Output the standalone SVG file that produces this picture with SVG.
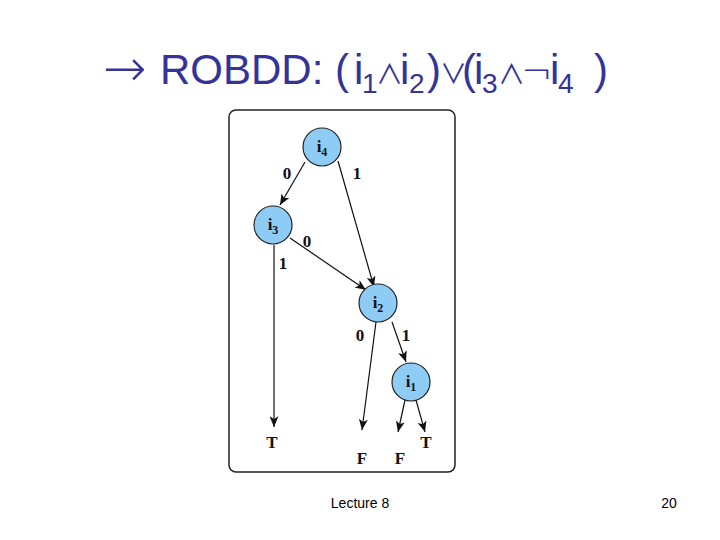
<svg xmlns="http://www.w3.org/2000/svg" width="720" height="540" viewBox="0 0 720 540">
<style>
.title{font-family:"Liberation Sans",Arial,sans-serif;font-size:42px;fill:#333399}
.sub{font-size:28px}
.op{font-family:"Noto Sans CJK JP","DejaVu Sans",sans-serif;font-size:27px}
.neg{font-family:"DejaVu Sans",sans-serif;font-size:38px;font-weight:200}
.node circle{fill:#8ecbf5;stroke:#222;stroke-width:1.2}
.nl{font-family:"Liberation Serif","Times New Roman",serif;font-weight:bold;font-size:17px;fill:#111;text-anchor:middle}
.lbl{font-family:"Liberation Serif","Times New Roman",serif;font-weight:bold;font-size:17px;fill:#111;text-anchor:middle}
.edge{stroke:#111;stroke-width:1.2;fill:none;marker-end:url(#ah)}
.foot{font-family:"Liberation Sans",Arial,sans-serif;font-size:14px;fill:#000}
</style>
<defs>
<marker id="ah" viewBox="0 0 12 10" refX="12" refY="5" markerWidth="12" markerHeight="9" markerUnits="userSpaceOnUse" orient="auto">
<path d="M0,0 L12,5 L0,10 L3,5 Z" fill="#111"/>
</marker>
</defs>
<rect width="720" height="540" fill="#fff"/>
<text style="font-family:'DejaVu Sans',sans-serif;font-size:52px;font-weight:200;fill:#333399" x="103" y="86">→</text>
<text class="title" y="84"><tspan x="160">ROBDD: (</tspan><tspan x="354">i</tspan><tspan class="sub" x="362" y="93">1</tspan><tspan class="op" x="376" y="84">∧</tspan><tspan x="400" y="84">i</tspan><tspan class="sub" x="409" y="93">2</tspan><tspan x="427" y="84">)</tspan><tspan class="op" x="440" y="84">∨</tspan><tspan x="462" y="84">(</tspan><tspan x="474">i</tspan><tspan class="sub" x="482" y="93">3</tspan><tspan class="op" x="498" y="84">∧</tspan><tspan class="neg" x="521" y="84">¬</tspan><tspan x="550">i</tspan><tspan class="sub" x="558" y="93">4</tspan><tspan x="594" y="84">)</tspan></text>
<rect x="229" y="110" width="226" height="362" rx="7" fill="none" stroke="#222" stroke-width="1.5"/>
<g id="connectors">
<path class="edge" d="M305,162 L280,205"/>
<path class="edge" d="M338,161 L374,287"/>
<path class="edge" d="M290,238 L366,290"/>
<path class="edge" d="M274,245 L274,427"/>
<path class="edge" d="M376,322 L362,430"/>
<path class="edge" d="M392,322 L406,362"/>
<path class="edge" d="M405,400 L398,432"/>
<path class="edge" d="M416,400 L425,432"/>
<text class="lbl" x="287" y="179">0</text>
<text class="lbl" x="357" y="179">1</text>
<text class="lbl" x="307" y="247">0</text>
<text class="lbl" x="283" y="269">1</text>
<text class="lbl" x="360" y="341">0</text>
<text class="lbl" x="406" y="341">1</text>
</g>
<g id="i4" class="node"><circle cx="322" cy="147" r="19"/><text class="nl" x="322" y="152">i<tspan font-size="12" dy="4">4</tspan></text></g>
<g id="i3" class="node"><circle cx="273" cy="225" r="19"/><text class="nl" x="273" y="230">i<tspan font-size="12" dy="4">3</tspan></text></g>
<g id="i2" class="node"><circle cx="378" cy="303" r="19"/><text class="nl" x="378" y="308">i<tspan font-size="12" dy="4">2</tspan></text></g>
<g id="i1" class="node"><circle cx="411" cy="382" r="19"/><text class="nl" x="411" y="387">i<tspan font-size="12" dy="4">1</tspan></text></g>
<g id="T1"><text class="nl" x="272" y="448">T</text></g>
<g id="F1"><text class="nl" x="362" y="464">F</text></g>
<g id="F2"><text class="nl" x="400" y="464">F</text></g>
<g id="T2"><text class="nl" x="426" y="448">T</text></g>
<text class="foot" x="360" y="508" text-anchor="middle">Lecture 8</text>
<text class="foot" x="669" y="508" text-anchor="middle">20</text>
</svg>
